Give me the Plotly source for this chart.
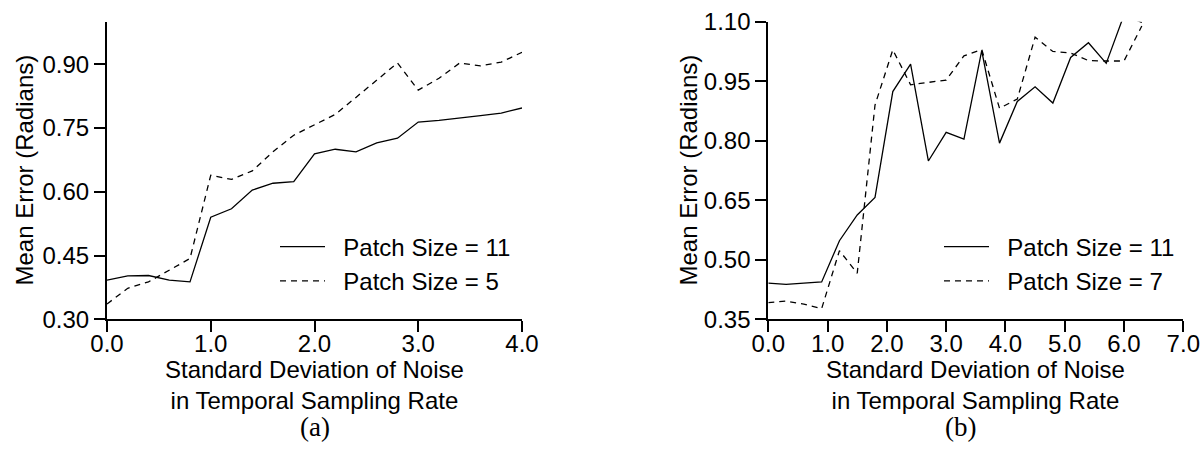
import plotly.graph_objects as go

W, H = 1204, 458

# ---- data: panel (a) ----
a_x = [0.0, 0.2, 0.4, 0.6, 0.8, 1.0, 1.2, 1.4, 1.6, 1.8, 2.0, 2.2, 2.4, 2.6, 2.8, 3.0, 3.2, 3.4, 3.6, 3.8, 4.0]
a_ps11 = [0.392, 0.402, 0.403, 0.392, 0.388, 0.540, 0.560, 0.604, 0.620, 0.624, 0.689, 0.700, 0.694,
          0.715, 0.726, 0.764, 0.768, 0.773, 0.779, 0.785, 0.797]
a_ps5 = [0.336, 0.373, 0.388, 0.416, 0.443, 0.639, 0.629, 0.649, 0.694, 0.733, 0.758, 0.782, 0.822,
         0.863, 0.903, 0.839, 0.867, 0.903, 0.896, 0.905, 0.928]

# ---- data: panel (b) ----
b_x = [0.0, 0.3, 0.6, 0.9, 1.2, 1.5, 1.8, 2.1, 2.4, 2.7, 3.0, 3.3, 3.6, 3.9, 4.2, 4.5, 4.8, 5.1, 5.4, 5.7, 6.0, 6.3]
b_ps11 = [0.441, 0.438, 0.441, 0.444, 0.548, 0.613, 0.657, 0.924, 0.993, 0.749, 0.821, 0.804, 1.027,
          0.794, 0.899, 0.936, 0.895, 1.010, 1.047, 0.995, 1.117, 1.098]
b_ps7 = [0.392, 0.396, 0.388, 0.377, 0.523, 0.466, 0.890, 1.029, 0.941, 0.947, 0.953, 1.014, 1.030,
         0.882, 0.905, 1.061, 1.025, 1.021, 1.002, 1.001, 1.001, 1.089]

a_xticks = [0.0, 1.0, 2.0, 3.0, 4.0]
a_yticks = [0.30, 0.45, 0.60, 0.75, 0.90]
b_xticks = [0.0, 1.0, 2.0, 3.0, 4.0, 5.0, 6.0, 7.0]
b_yticks = [0.35, 0.50, 0.65, 0.80, 0.95, 1.10]

a_names = ["Patch Size = 11", "Patch Size = 5"]
b_names = ["Patch Size = 11", "Patch Size = 7"]

x_title = "Standard Deviation of Noise<br>in Temporal Sampling Rate"
y_title = "Mean Error (Radians)"

FONT = "Liberation Sans, Arial, Helvetica, sans-serif"
FS = 24
DASH = "6px,5px"
GAP = "\u00a0\u00a0"  # extra gap between legend sample and its text

def px(v):
    return v / W

def py(v):
    return (H - v) / H

fig = go.Figure()
fig.add_trace(go.Scatter(x=a_x, y=a_ps11, mode="lines", name=GAP + a_names[0],
                         line=dict(color="black", width=1.3), xaxis="x", yaxis="y", legend="legend"))
fig.add_trace(go.Scatter(x=a_x, y=a_ps5, mode="lines", name=GAP + a_names[1],
                         line=dict(color="black", width=1.3, dash=DASH), xaxis="x", yaxis="y", legend="legend"))
fig.add_trace(go.Scatter(x=b_x, y=b_ps11, mode="lines", name=GAP + b_names[0],
                         line=dict(color="black", width=1.3), xaxis="x2", yaxis="y2", legend="legend2"))
fig.add_trace(go.Scatter(x=b_x, y=b_ps7, mode="lines", name=GAP + b_names[1],
                         line=dict(color="black", width=1.3, dash=DASH), xaxis="x2", yaxis="y2", legend="legend2"))

axis_common = dict(showline=True, linecolor="black", linewidth=2, ticks="outside", ticklen=11,
                   tickwidth=2, tickcolor="black", showgrid=False, zeroline=False, automargin=False,
                   tickfont=dict(family=FONT, size=FS, color="black"))

ydom = [py(319.3), py(21.7)]
fig.update_layout(
    template="none",
    width=W, height=H,
    margin=dict(l=0, r=0, t=0, b=0, pad=0, autoexpand=False),
    paper_bgcolor="white", plot_bgcolor="white",
    font=dict(family=FONT, size=FS, color="black"),
    xaxis=dict(domain=[px(107), px(522)], range=[0, 4], tickvals=a_xticks,
               tickformat=".1f", anchor="y", ticklabelstandoff=-9, **axis_common),
    yaxis=dict(domain=ydom, range=[0.30, 1.0], tickvals=a_yticks,
               tickformat=".2f", anchor="x", **axis_common),
    xaxis2=dict(domain=[px(768.3), px(1183.3)], range=[0, 7], tickvals=b_xticks,
                tickformat=".1f", anchor="y2", ticklabelstandoff=-9, **axis_common),
    yaxis2=dict(domain=ydom, range=[0.35, 1.10], tickvals=b_yticks,
                tickformat=".2f", anchor="x2", **axis_common),
    legend=dict(x=px(275), y=py(224.5), xanchor="left", yanchor="top", itemwidth=45,
                bgcolor="rgba(0,0,0,0)", font=dict(family=FONT, size=FS, color="black"),
                tracegroupgap=0),
    legend2=dict(x=px(939), y=py(224.5), xanchor="left", yanchor="top", itemwidth=45,
                 bgcolor="rgba(0,0,0,0)", font=dict(family=FONT, size=FS, color="black"),
                 tracegroupgap=0),
    showlegend=True,
)

ann = []
for cx in [(107 + 522) / 2, (768.3 + 1183.3) / 2]:
    ann.append(dict(text=x_title, x=px(cx), y=py(385), xref="paper", yref="paper",
                    showarrow=False, xanchor="center", yanchor="middle",
                    font=dict(family=FONT, size=FS, color="black")))
for cx in [24, 688]:
    ann.append(dict(text=y_title, x=px(cx), y=py(170.5), xref="paper", yref="paper",
                    showarrow=False, xanchor="center", yanchor="middle", textangle=-90,
                    font=dict(family=FONT, size=FS, color="black")))
for cx, lab in [(315, "(a)"), (960, "(b)")]:
    ann.append(dict(text=lab, x=px(cx), y=py(427), xref="paper", yref="paper",
                    showarrow=False, xanchor="center", yanchor="middle",
                    font=dict(family="Liberation Serif, DejaVu Serif, serif", size=27, color="black")))
fig.update_layout(annotations=ann)

fig.write_html("out.html")
